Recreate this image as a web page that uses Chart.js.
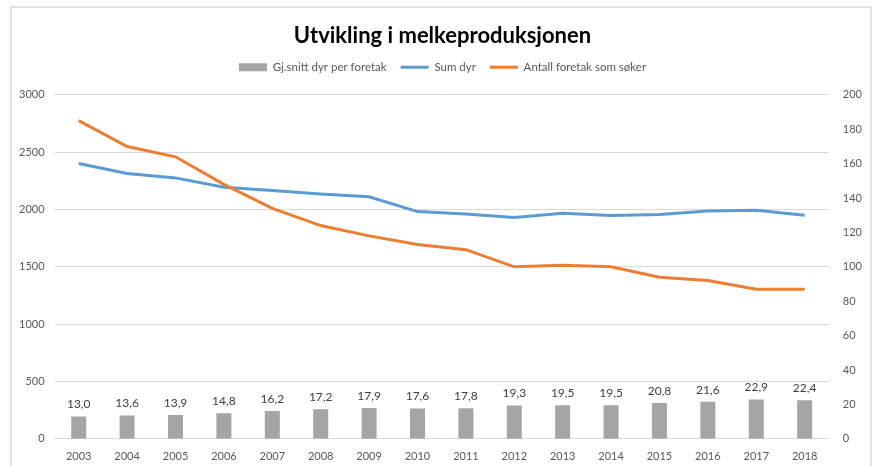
<!DOCTYPE html>
<html lang="no">
  <head>
    <meta charset="UTF-8" />
    <title>Utvikling i melkeproduksjonen</title>
    <script src="https://cdn.jsdelivr.net/npm/chart.js@4.4.1/dist/chart.umd.min.js"></script>
    <style>
      body { margin: 0; background: #fff; overflow: hidden; }
      #melk { position: absolute; left: 0; top: 0; }
      #frame {
        position: absolute;
        left: 10px;
        top: 6px;
        width: 858px;
        height: 470px;
        border: 2px solid #e3e3e3;
        border-bottom: none;
        pointer-events: none;
      }
    </style>
  </head>
  <body>
    <canvas id="melk" width="873" height="466"></canvas>
    <div id="frame"></div>

    <script>
      const years = ['2003', '2004', '2005', '2006', '2007', '2008', '2009', '2010',
        '2011', '2012', '2013', '2014', '2015', '2016', '2017', '2018']
      const snittDyr = [13.0, 13.6, 13.9, 14.8, 16.2, 17.2, 17.9, 17.6,
        17.8, 19.3, 19.5, 19.5, 20.8, 21.6, 22.9, 22.4]
      const sumDyr = [2402, 2315, 2276, 2195, 2166, 2135, 2112, 1982,
        1960, 1931, 1968, 1948, 1957, 1988, 1993, 1951]
      const antallForetak = [185, 170, 164, 148, 134, 124, 118, 113,
        110, 100, 101, 100, 94, 92, 87, 87]

      const GREY = '#a5a5a5'
      const BLUE = '#5b9bd5'
      const ORANGE = '#ed7d31'
      const TEXT = '#595959'
      const FONT = 'Lato, "Open Sans", sans-serif'

      // value labels above the bars, Norwegian decimal comma
      const barLabels = {
        id: 'barLabels',
        afterDatasetsDraw(chart) {
          const ctx = chart.ctx
          const meta = chart.getDatasetMeta(0)
          ctx.save()
          ctx.font = '12px ' + FONT
          ctx.fillStyle = '#404040'
          ctx.textAlign = 'center'
          ctx.textBaseline = 'bottom'
          meta.data.forEach((bar, i) => {
            const txt = snittDyr[i].toFixed(1).replace('.', ',')
            ctx.fillText(txt, bar.x, bar.y - 6)
          })
          ctx.restore()
        },
      }

      // extra room under the legend
      const legendGap = {
        id: 'legendGap',
        beforeInit(chart) {
          const fit = chart.legend.fit
          chart.legend.fit = function () {
            fit.bind(chart.legend)()
            this.height += 12
          }
        },
      }

      const tickFont = { family: FONT, size: 11 }

      new Chart(document.getElementById('melk').getContext('2d'), {
        type: 'bar',
        data: {
          labels: years,
          datasets: [
            {
              type: 'bar',
              label: 'Gj.snitt dyr per foretak',
              data: snittDyr,
              backgroundColor: GREY,
              yAxisID: 'y1',
              barPercentage: 0.31,
              categoryPercentage: 1,
              order: 3,
            },
            {
              type: 'line',
              label: 'Sum dyr',
              data: sumDyr,
              borderColor: BLUE,
              backgroundColor: BLUE,
              borderWidth: 3,
              pointRadius: 0,
              tension: 0,
              yAxisID: 'y',
              order: 2,
            },
            {
              type: 'line',
              label: 'Antall foretak som søker',
              data: antallForetak,
              borderColor: ORANGE,
              backgroundColor: ORANGE,
              borderWidth: 3,
              pointRadius: 0,
              tension: 0,
              yAxisID: 'y1',
              order: 1,
            },
          ],
        },
        options: {
          responsive: false,
          animation: false,
          layout: { padding: { left: 9, right: -3, bottom: 0 } },
          plugins: {
            title: {
              display: true,
              text: 'Utvikling i melkeproduksjonen',
              color: '#000',
              font: { family: FONT, size: 22, weight: 'bold' },
              padding: { top: 23, bottom: -2 },
            },
            legend: {
              position: 'top',
              labels: {
                color: TEXT,
                font: { family: FONT, size: 11.5 },
                usePointStyle: true,
                pointStyleWidth: 28,
                boxHeight: 8,
                padding: 14,
                generateLabels(chart) {
                  return chart.data.datasets.map((ds, i) => ({
                    text: ds.label,
                    datasetIndex: i,
                    fontColor: TEXT,
                    pointStyle: ds.type === 'bar' ? 'rect' : 'line',
                    fillStyle: ds.type === 'bar' ? GREY : ds.borderColor,
                    strokeStyle: ds.type === 'bar' ? GREY : ds.borderColor,
                    lineWidth: ds.type === 'bar' ? 0 : 3,
                    hidden: false,
                  }))
                },
              },
            },
            tooltip: { enabled: false },
          },
          scales: {
            x: {
              grid: { display: false },
              border: { display: false },
              ticks: { color: TEXT, font: tickFont, padding: 3 },
            },
            y: {
              position: 'left',
              min: 0,
              max: 3000,
              ticks: {
                stepSize: 500,
                color: TEXT,
                font: tickFont,
                padding: 10,
                callback: (v) => String(v),
              },
              grid: { color: '#d9d9d9', drawTicks: false },
              border: { display: false },
            },
            y1: {
              position: 'right',
              min: 0,
              max: 200,
              ticks: {
                stepSize: 20,
                color: TEXT,
                font: tickFont,
                padding: 14,
                callback: (v) => String(v),
              },
              grid: { display: false, drawTicks: false },
              border: { display: false },
            },
          },
        },
        plugins: [barLabels, legendGap],
      })
    </script>
  </body>
</html>
